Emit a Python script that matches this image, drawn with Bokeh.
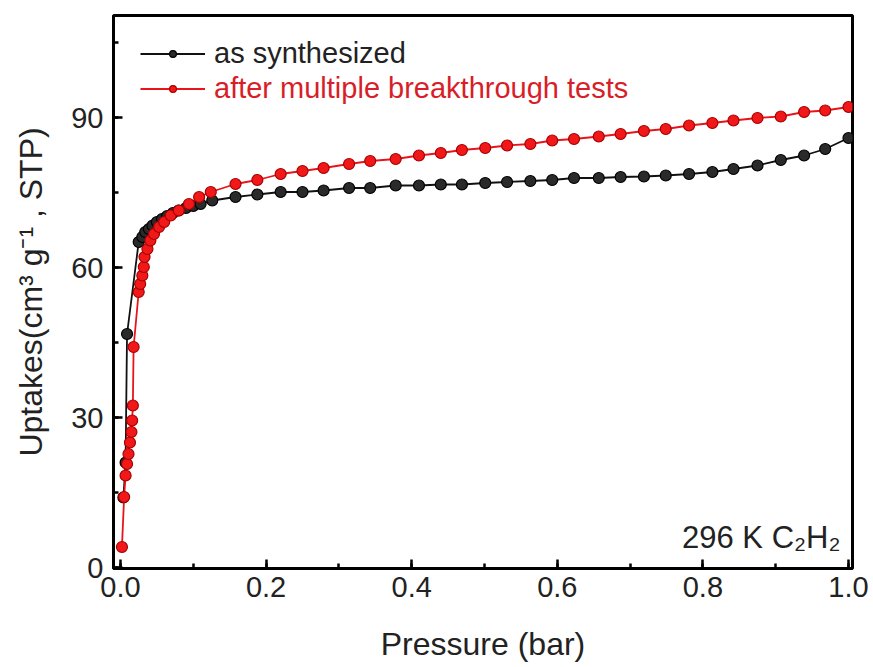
from bokeh.plotting import figure
from bokeh.models import Range1d, Legend, LegendItem, Label, SingleIntervalTicker, CustomJSTickFormatter
from bokeh.embed import file_html
from bokeh.resources import INLINE

# ---- data ----
p_as = [0.004, 0.007, 0.009, 0.025, 0.030, 0.034, 0.039, 0.044, 0.050, 0.057,
        0.064, 0.072, 0.080, 0.090, 0.100, 0.110, 0.126, 0.158, 0.188, 0.220,
        0.250, 0.279, 0.314, 0.343, 0.378, 0.410, 0.440, 0.469, 0.501, 0.531,
        0.563, 0.593, 0.623, 0.657, 0.687, 0.719, 0.749, 0.781, 0.813, 0.842,
        0.875, 0.907, 0.939, 0.968, 1.000]
u_as = [14.0, 21.0, 46.7, 65.1, 66.1, 67.1, 67.7, 68.4, 69.1, 69.7,
        70.3, 70.9, 71.4, 71.9, 72.3, 72.7, 73.4, 74.1, 74.6, 75.1,
        75.1, 75.4, 75.9, 75.9, 76.4, 76.4, 76.6, 76.6, 76.9, 77.1,
        77.3, 77.5, 77.9, 77.9, 78.1, 78.2, 78.4, 78.7, 79.1, 79.7,
        80.4, 81.5, 82.4, 83.7, 85.9]

p_after = [0.002, 0.005, 0.007, 0.009, 0.011, 0.013, 0.015, 0.016, 0.017, 0.018,
           0.025, 0.027, 0.030, 0.032, 0.033, 0.037, 0.041, 0.046, 0.053, 0.060,
           0.069, 0.080, 0.094, 0.108, 0.124, 0.158, 0.188, 0.220, 0.250, 0.279,
           0.314, 0.343, 0.378, 0.410, 0.440, 0.469, 0.501, 0.531, 0.563, 0.593,
           0.623, 0.657, 0.687, 0.719, 0.749, 0.781, 0.813, 0.842, 0.875, 0.907,
           0.939, 0.968, 1.000]
u_after = [4.1, 14.1, 18.4, 20.7, 22.7, 25.0, 27.1, 29.4, 32.4, 44.1,
           55.1, 56.7, 58.4, 60.1, 62.1, 63.7, 65.4, 66.7, 68.1, 69.1,
           70.4, 71.4, 72.7, 74.1, 75.1, 76.7, 77.5, 78.7, 79.3, 79.9,
           80.7, 81.3, 81.7, 82.4, 82.9, 83.5, 83.9, 84.4, 84.7, 85.4,
           85.7, 86.2, 86.7, 87.3, 87.7, 88.4, 88.9, 89.4, 89.9, 90.2,
           91.1, 91.4, 92.1]

labels = ["as synthesized", "after multiple breakthrough tests"]
annotation = "296 K C\u2082H\u2082"
x_title = "Pressure (bar)"
y_title = "Uptakes(cm\u00b3 g\u207b\u00b9 , STP)"

FONT = "Liberation Sans"
BLACK = "#111111"
RED = "#e8141a"

W, H = 873, 667
ML, MR, MT, MB = 113, 21, 15, 99

p = figure(width=W, height=H, output_backend="svg", toolbar_location=None,
           x_range=Range1d(-0.0096, 1.0055), y_range=Range1d(-0.2, 110.4),
           min_border_left=ML, min_border_right=MR, min_border_top=MT,
           min_border_bottom=MB)
p.background_fill_color = "white"
p.border_fill_color = "white"
p.grid.visible = False
p.outline_line_color = "black"
p.outline_line_width = 3

p.xaxis.ticker = SingleIntervalTicker(interval=0.2, num_minor_ticks=2)
p.yaxis.ticker = SingleIntervalTicker(interval=30, num_minor_ticks=2)
p.xaxis.formatter = CustomJSTickFormatter(code="return tick.toFixed(1);")

for ax in (p.xaxis[0], p.yaxis[0]):
    ax.axis_line_width = 3
    ax.axis_line_color = "black"
    ax.major_tick_in = 9
    ax.major_tick_out = 0
    ax.minor_tick_in = 5
    ax.minor_tick_out = 0
    ax.major_tick_line_width = 2.5
    ax.minor_tick_line_width = 2.5
    ax.major_label_text_font = FONT
    ax.major_label_text_font_size = "29px"
    ax.major_label_text_color = "#222222"
    ax.axis_label_text_font = FONT
    ax.axis_label_text_font_style = "normal"
    ax.axis_label_text_color = "#222222"

p.xaxis.axis_label = x_title
p.yaxis.axis_label = y_title
p.xaxis.axis_label_text_font_size = "32px"
p.yaxis.axis_label_text_font_size = "32px"
p.xaxis.major_label_standoff = 8
p.yaxis.major_label_standoff = 10
p.xaxis.axis_label_standoff = 26
p.yaxis.axis_label_standoff = 19

l1 = p.line(p_as, u_as, line_color=BLACK, line_width=1.8)
s1 = p.scatter(p_as, u_as, size=11, fill_color="#2a2a2a", line_color="black", line_width=1.2)
l2 = p.line(p_after, u_after, line_color=RED, line_width=1.8)
s2 = p.scatter(p_after, u_after, size=11, fill_color="#f01818", line_color="#a80000", line_width=1.2)

frame_h = H - MT - MB
ROW = 17

def make_legend(label, renderers, color, top):
    lg = Legend(items=[LegendItem(label=label, renderers=renderers)],
                location=(27, frame_h - top - ROW),
                border_line_color=None, background_fill_alpha=0,
                padding=0, margin=0, spacing=0,
                glyph_width=65, glyph_height=ROW, label_height=ROW,
                label_standoff=9,
                label_text_font=FONT, label_text_font_size="29px",
                label_text_color=color)
    p.add_layout(lg, "center")

make_legend(labels[0], [l1, s1], "#222222", 38)
make_legend(labels[1], [l2, s2], "#d81e28", 73)

p.add_layout(Label(x=0.989, y=6.0, text=annotation, text_align="right",
                   text_baseline="alphabetic", text_font=FONT,
                   text_font_size="31px", text_color="#222222"))

open("out.html", "w").write(file_html(p, INLINE))
